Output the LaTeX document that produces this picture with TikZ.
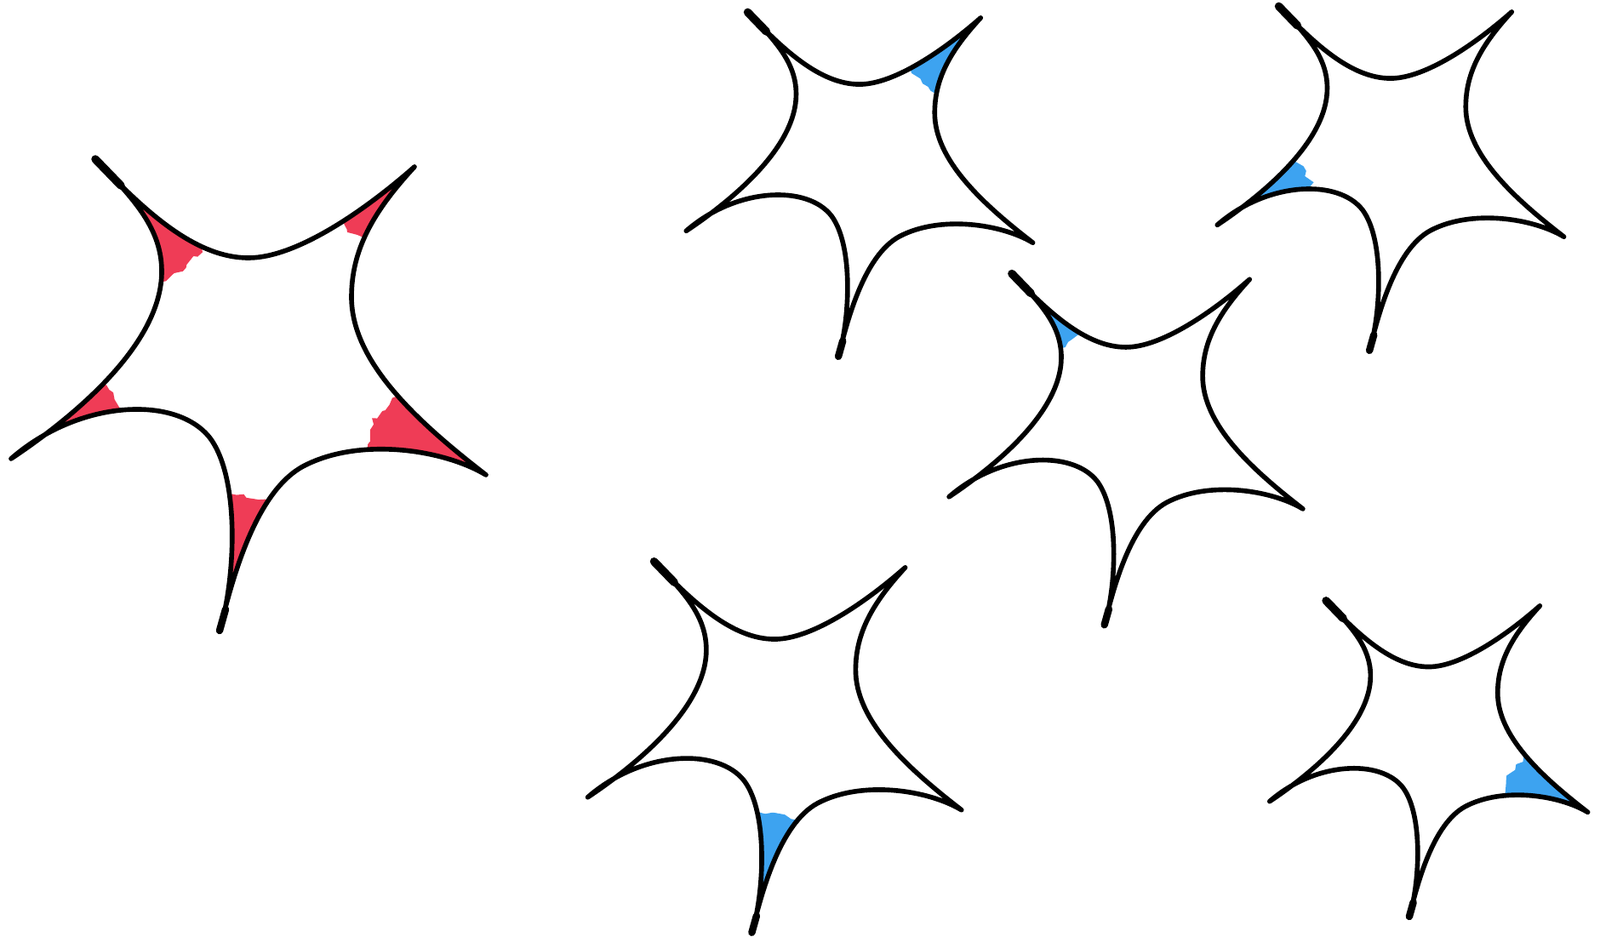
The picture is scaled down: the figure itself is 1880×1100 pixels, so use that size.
\documentclass[tikz,border=0pt]{standalone}
\usetikzlibrary{decorations.pathmorphing}
\definecolor{tipred}{RGB}{239,60,86}
\definecolor{tipblue}{RGB}{61,163,240}
\tikzset{ink/.style={line width=1.6pt,line cap=round,line join=round},
  scribble/.style={decorate,decoration={random steps,segment length=2pt,amplitude=1pt}}}
% one sparkle, centre at (0,0): top, right, lower right, lower left and left sides
\def\sparkoutline{(-176,-257) .. controls (-120,-198) and (-60,-141) .. (4,-141)
  .. controls (60,-141) and (140,-196) .. (199,-248)
  .. controls (150,-195) and (125,-150) .. (125,-95)
  .. controls (125,-20) and (200,50) .. (283,114)
  .. controls (233,84) and (134,69) .. (68,104)
  .. controls (11,135) and (-16,240) .. (-30,297)
  .. controls (-12,240) and (-5,120) .. (-41,71)
  .. controls (-80,20) and (-195,25) .. (-275,95)
  .. controls (-200,45) and (-98,-40) .. (-98,-125)
  .. controls (-98,-175) and (-130,-210) .. (-176,-257)}
\newcommand{\sparkle}[5]{% centre x, centre y, scale, colour, shaded tips x/y/r
  \begin{scope}[shift={(#1,#2)},scale=#3]
    \begin{scope}
      \clip \sparkoutline;
      \foreach \px/\py/\pr in {#5} \fill[#4,scribble] (\px,\py) circle (\pr);
    \end{scope}
    \draw[ink] \sparkoutline;
    \draw[ink,line width=2.7pt] (-176,-257) -- (-146,-226);
    \draw[ink,line width=2.4pt] (-30,297) -- (-23,272);
  \end{scope}}
\begin{document}
\begin{tikzpicture}[x=0.01cm,y=-0.01cm]
  \useasboundingbox (0,0) rectangle (1880,1100);
  % big one, all five tips shaded
  \sparkle{288}{444}{1}{tipred}{-140/-215/110, 175/-225/73, -230/65/88, 205/78/60, -10/215/77}
  % small ones, one tip each
  \sparkle{1007}{202}{0.73}{tipblue}{165/-215/95}
  \sparkle{1631}{195}{0.73}{tipblue}{-230/65/112}
  \sparkle{1320}{513}{0.745}{tipblue}{-140/-215/86}
  \sparkle{907}{862}{0.787}{tipblue}{-10/215/95}
  \sparkle{1676}{878}{0.67}{tipblue}{205/78/66}
\end{tikzpicture}
\end{document}
